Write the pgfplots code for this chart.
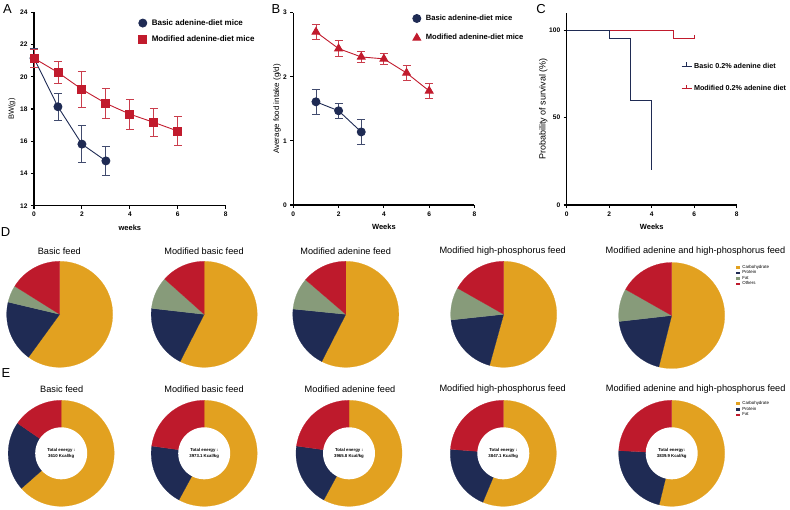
\documentclass[border=0pt]{standalone}
\usepackage{pgfplots}
\pgfplotsset{compat=1.18}
\usepackage{fontspec}
\setmainfont{Liberation Sans}
\definecolor{cnavy}{RGB}{31,43,84}
\definecolor{cred}{RGB}{193,27,45}
\definecolor{pieorange}{RGB}{226,161,32}
\definecolor{pienavy}{RGB}{31,43,84}
\definecolor{piegreen}{RGB}{135,155,122}
\definecolor{piered}{RGB}{190,26,44}

\pgfplotsset{
  prism/.style={
    scale only axis,
    axis lines*=left,
    axis line style={line width=1.2pt, -},
    tick align=outside,
    major tick length=3pt,
    tick style={line width=1.1pt, black},
    ticklabel style={font=\fontsize{6.6}{7}\selectfont\bfseries},
    /pgf/number format/assume math mode=true,
    legend style={draw=none, fill=none, anchor=north west,
      font=\fontsize{8}{9}\selectfont\bfseries},
    legend cell align=left,
    clip=false,
    every axis x label/.style={at={(axis description cs:0.5,-0.115)}, anchor=center,
      font=\fontsize{7.5}{8}\selectfont\bfseries},
  },
  markleg/.style={legend image code/.code={\draw[##1] plot coordinates {(0pt,0pt)};}},
  pieaxis/.style={
    scale only axis, hide axis, width=106pt, height=106pt,
    xmin=-1, xmax=1, ymin=-1, ymax=1, anchor=center, clip=false,
  },
}

\newcommand{\wedgeplot}[3]{\addplot[draw=#1, line width=0.2pt, fill=#1, forget plot, domain=#2:#3, samples=61] ({cos(x)},{sin(x)}) -- (axis cs:0,0) -- cycle;}
\newcommand{\pieslices}[4]{%
  \pgfmathsetmacro\angA{90-3.6*(#1)}%
  \pgfmathsetmacro\angB{\angA-3.6*(#2)}%
  \pgfmathsetmacro\angC{\angB-3.6*(#3)}%
  \pgfmathsetmacro\angD{\angC-3.6*(#4)}%
  \edef\tmp{\noexpand\wedgeplot{pieorange}{\angA}{90}%
    \noexpand\wedgeplot{pienavy}{\angB}{\angA}%
    \noexpand\wedgeplot{piegreen}{\angC}{\angB}%
    \noexpand\wedgeplot{piered}{\angD}{\angC}}\tmp}
\newcommand{\donutslices}[3]{%
  \pgfmathsetmacro\angA{90-3.6*(#1)}%
  \pgfmathsetmacro\angB{\angA-3.6*(#2)}%
  \pgfmathsetmacro\angC{\angB-3.6*(#3)}%
  \edef\tmp{\noexpand\wedgeplot{pieorange}{\angA}{90}%
    \noexpand\wedgeplot{pienavy}{\angB}{\angA}%
    \noexpand\wedgeplot{piered}{\angC}{\angB}}\tmp
  \addplot[fill=white, draw=none, forget plot, domain=0:360, samples=91] ({0.49*cos(x)},{0.49*sin(x)}) -- cycle;}
\newcommand{\energy}[1]{\node[align=center, font=\fontsize{4.3}{5.8}\selectfont\bfseries] at (axis cs:0,0) {#1};}
\pgfplotsset{pieleg/.style={
  legend image code/.code={\fill[##1] (0pt,-1.3pt) rectangle (4pt,1.3pt);},
  legend cell align=left,
  legend style={at={(axis cs:#1)}, anchor=north west, draw=none, fill=none,
    font=\fontsize{4.4}{4.8}\selectfont, row sep=0pt,
    nodes={inner sep=0.45pt}, /tikz/every odd column/.append style={column sep=1.5pt}}}}

\begin{document}
\begin{tikzpicture}
\useasboundingbox (0,0) rectangle (790pt,-509pt);

% ---------------- Panel A
\begin{axis}[prism, at={(34pt,-205.7pt)}, anchor=south west, width=191.7pt, height=193.4pt,
  xmin=0, xmax=8, ymin=12, ymax=24, xtick={0,2,4,6,8}, ytick={12,14,...,24},
  xlabel={weeks}, ylabel={BW(g)},
  every axis y label/.style={at={(axis description cs:-0.115,0.5)}, rotate=90, anchor=center,
      font=\fontsize{7.5}{8}\selectfont},
  markleg,
  legend style={at={(0.53,0.985)}, row sep=5.5pt, /tikz/every odd column/.append style={column sep=3pt}}]
\addplot[cnavy, line width=0.9pt, mark=*, mark size=4pt,
  error bars/.cd, y dir=both, y explicit,
  error bar style={line width=0.9pt, cnavy!85},
  error mark options={rotate=90, mark size=4pt, line width=0.9pt, cnavy!85}]
  coordinates {(0,21.15) +- (0,0.6) (1,18.14) +- (0,0.85) (2,15.82) +- (0,1.14) (3,14.78) +- (0,0.88)};
\addlegendentry{Basic adenine-diet mice}
\addplot[cred, line width=0.9pt, mark=square*, mark size=4pt,
  error bars/.cd, y dir=both, y explicit,
  error bar style={line width=0.9pt, cred!85},
  error mark options={rotate=90, mark size=4pt, line width=0.9pt, cred!85}]
  coordinates {(0,21.15) +- (0,0.55) (1,20.27) +- (0,0.67) (2,19.22) +- (0,1.12) (3,18.35) +- (0,0.92)
   (4,17.68) +- (0,0.93) (5,17.17) +- (0,0.85) (6,16.63) +- (0,0.89)};
\addlegendentry{Modified adenine-diet mice}
\end{axis}

% ---------------- Panel B
\begin{axis}[prism, at={(293.3pt,-205pt)}, anchor=south west, width=181.2pt, height=192.3pt,
  xmin=0, xmax=8, ymin=0, ymax=3, xtick={0,2,4,6,8}, ytick={0,1,2,3},
  xlabel={Weeks}, ylabel={Average food intake (g/d)},
  every axis y label/.style={at={(axis description cs:-0.09,0.5)}, rotate=90, anchor=center,
      font=\fontsize{8}{8.5}\selectfont},
  markleg,
  legend style={at={(0.642,1.01)}, row sep=8.5pt, font=\fontsize{7.6}{8.5}\selectfont\bfseries,
    /tikz/every odd column/.append style={column sep=3pt}}]
\addplot[cnavy, line width=0.9pt, mark=*, mark size=4pt,
  error bars/.cd, y dir=both, y explicit,
  error bar style={line width=0.9pt, cnavy!85},
  error mark options={rotate=90, mark size=4pt, line width=0.9pt, cnavy!85}]
  coordinates {(1,1.61) +- (0,0.2) (2,1.47) +- (0,0.12) (3,1.14) +- (0,0.19)};
\addlegendentry{Basic adenine-diet mice}
\addplot[cred, line width=0.9pt, mark=triangle*, mark size=4.5pt,
  error bars/.cd, y dir=both, y explicit,
  error bar style={line width=0.9pt, cred!85},
  error mark options={rotate=90, mark size=4pt, line width=0.9pt, cred!85}]
  coordinates {(1,2.70) +- (0,0.11) (2,2.44) +- (0,0.12) (3,2.31) +- (0,0.08) (4,2.28) +- (0,0.09)
   (5,2.06) +- (0,0.12) (6,1.78) +- (0,0.11)};
\addlegendentry{Modified adenine-diet mice}
\end{axis}

% ---------------- Panel C
\begin{axis}[prism, at={(566.7pt,-205pt)}, anchor=south west, width=170pt, height=192.3pt,
  xmin=0, xmax=8, ymin=0, ymax=110, xtick={0,2,4,6,8}, ytick={0,50,100},
  xlabel={Weeks}, ylabel={Probability of survival (\%)},
  every axis y label/.style={at={(axis description cs:-0.138,0.5)}, rotate=90, anchor=center,
      font=\fontsize{9}{9.5}\selectfont},
  legend image code/.code={\draw[#1, line width=0.8pt] (0pt,0pt) -- (10pt,0pt); \draw[#1, line width=0.8pt] (5pt,0pt) -- (5pt,4pt);},
  reverse legend,
  legend style={at={(0.655,0.76)}, row sep=11.5pt, font=\fontsize{7.2}{8}\selectfont\bfseries}]
\addplot[cred, line width=0.9pt, const plot] coordinates {(0,100) (5,95) (6,95)};
\addlegendentry{Modified 0.2\% adenine diet}
\addplot[cred, line width=0.9pt, only marks, mark=|, mark size=2pt, mark options={yshift=2pt}, forget plot] coordinates {(6,95)};
\addplot[cnavy, line width=0.9pt, const plot] coordinates {(0,100) (2,95) (3,60) (4,20)};
\addlegendentry{Basic 0.2\% adenine diet}
\end{axis}

% ---------------- Row D: pies
\begin{axis}[pieaxis, at={(59.7pt,-314.3pt)}]
\pieslices{60.0}{18.7}{5.2}{16.1}
\end{axis}
\begin{axis}[pieaxis, at={(204.2pt,-314.3pt)}]
\pieslices{57.5}{19.3}{9.8}{13.4}
\end{axis}
\begin{axis}[pieaxis, at={(345.8pt,-314.3pt)}]
\pieslices{57.5}{19.1}{9.7}{13.7}
\end{axis}
\begin{axis}[pieaxis, at={(503.7pt,-314.3pt)}]
\pieslices{54.3}{19.0}{9.9}{16.8}
\end{axis}
\begin{axis}[pieaxis, at={(671.7pt,-315.5pt)}, pieleg={1.16,1.0}]
\pieslices{53.9}{19.3}{10.0}{16.8}
\addlegendimage{fill=pieorange, draw=none}\addlegendentry{Carbohydrate}
\addlegendimage{fill=pienavy, draw=none}\addlegendentry{Protein}
\addlegendimage{fill=piegreen, draw=none}\addlegendentry{Fat}
\addlegendimage{fill=piered, draw=none}\addlegendentry{Others}
\end{axis}

% ---------------- Row E: donuts
\begin{axis}[pieaxis, at={(61.2pt,-453.3pt)}]
\donutslices{63.5}{21.1}{15.4}
\energy{Total energy :\\3610 Kcal/kg}
\end{axis}
\begin{axis}[pieaxis, at={(204.2pt,-453.3pt)}]
\donutslices{57.9}{19.3}{22.8}
\energy{Total energy :\\3973.1 Kcal/kg}
\end{axis}
\begin{axis}[pieaxis, at={(349pt,-453.3pt)}]
\donutslices{57.9}{19.3}{22.8}
\energy{Total energy :\\3965.8 Kcal/kg}
\end{axis}
\begin{axis}[pieaxis, at={(503.3pt,-453.3pt)}]
\donutslices{56.3}{19.9}{23.8}
\energy{Total energy :\\3847.1 Kcal/kg}
\end{axis}
\begin{axis}[pieaxis, at={(671.7pt,-453.3pt)}, pieleg={1.16,1.03}]
\donutslices{53.8}{22.0}{24.2}
\energy{Total energy:\\3839.9 Kcal/kg}
\addlegendimage{fill=pieorange, draw=none}\addlegendentry{Carbohydrate}
\addlegendimage{fill=pienavy, draw=none}\addlegendentry{Protein}
\addlegendimage{fill=piered, draw=none}\addlegendentry{Fat}
\end{axis}

% ---------------- titles and panel letters
\begin{scope}[every node/.style={font=\fontsize{9.2}{10}\selectfont, anchor=center}]
\node at (59.3pt,-251pt) {Basic feed};
\node at (204pt,-251pt) {Modified basic feed};
\node at (345.7pt,-251pt) {Modified adenine feed};
\node at (502.7pt,-251pt) {Modified high-phosphorus feed};
\node at (695.5pt,-251pt) {Modified adenine and high-phosphorus feed};
\node at (61.7pt,-389pt) {Basic feed};
\node at (204pt,-389pt) {Modified basic feed};
\node at (350pt,-389pt) {Modified adenine feed};
\node at (502.7pt,-389pt) {Modified high-phosphorus feed};
\node at (695.7pt,-389pt) {Modified adenine and high-phosphorus feed};
\end{scope}
\begin{scope}[every node/.style={font=\fontsize{13}{14}\selectfont, anchor=center}]
\node at (7.5pt,-9pt) {A};
\node at (276pt,-9pt) {B};
\node at (541pt,-9pt) {C};
\node at (5.5pt,-232pt) {D};
\node at (6pt,-372.7pt) {E};
\end{scope}
\end{tikzpicture}
\end{document}
